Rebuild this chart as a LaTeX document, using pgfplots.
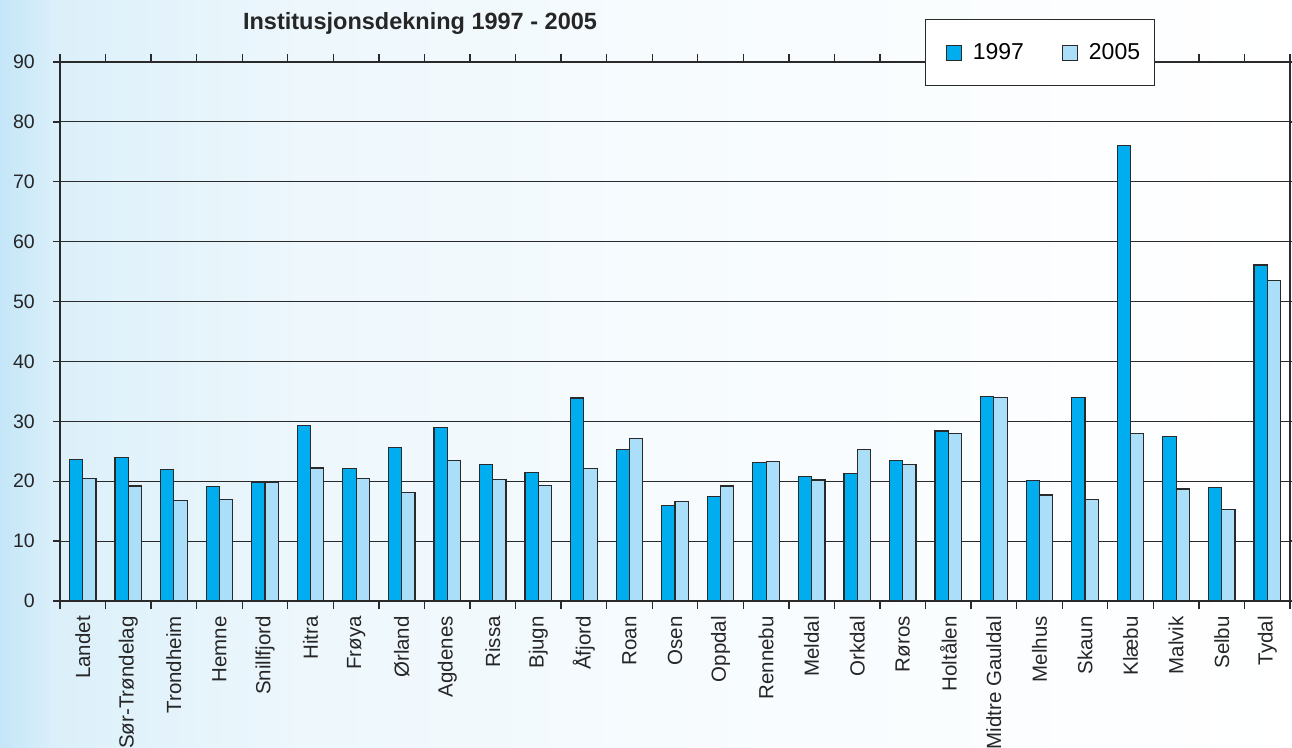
\documentclass[border=0pt]{standalone}
\usepackage{pgfplots}
\usepackage{pgfplotstable}
\pgfplotsset{compat=1.18}
\usepackage{fontspec}
\setmainfont{Liberation Sans}

\definecolor{bar97}{HTML}{00AEEF}
\definecolor{bar05}{HTML}{ABDFF9}
\definecolor{edge}{HTML}{2A2A2A}
\definecolor{bgA}{HTML}{C4E6F8}
\definecolor{bgB}{HTML}{DCF0FA}
\definecolor{bgC}{HTML}{EDF7FC}
\definecolor{bgD}{HTML}{F6FBFE}

% soft blue backdrop that fades out towards the right
\pgfdeclarehorizontalshading{backdrop}{100bp}{%
  color(0bp)=(bgA); color(25bp)=(bgA); color(27.3bp)=(bgB);
  color(36.6bp)=(bgC); color(50bp)=(bgD); color(75bp)=(white); color(100bp)=(white)}

% Institusjonsdekning per kommune, 1997 og 2005
\pgfplotstableread{
idx v1997 v2005
0  23.6 20.4
1  23.9 19.2
2  21.9 16.8
3  19.1 17.0
4  19.8 19.8
5  29.3 22.2
6  22.1 20.4
7  25.6 18.1
8  29.0 23.4
9  22.8 20.3
10 21.5 19.3
11 33.9 22.1
12 25.3 27.1
13 15.9 16.6
14 17.5 19.2
15 23.1 23.3
16 20.8 20.2
17 21.3 25.3
18 23.5 22.8
19 28.4 28.0
20 34.2 34.0
21 20.1 17.7
22 34.0 16.9
23 76.1 28.0
24 27.5 18.7
25 18.9 15.3
26 56.1 53.5
}\datatable

\begin{document}
\begin{tikzpicture}
\path[use as bounding box] (0pt,0pt) rectangle (1292pt,747pt);
\shade[shading=backdrop] (0pt,0pt) rectangle (1292pt,747pt);

\node[font=\fontsize{23.5}{27}\selectfont\bfseries, anchor=base, text=black!85]
  at (420pt,717pt) {Institusjonsdekning 1997 - 2005};

\begin{axis}[
  at={(60pt,146pt)}, anchor=south west,
  scale only axis, width=1230pt, height=539pt,
  xmin=-0.5, xmax=26.5, ymin=0, ymax=90,
  ybar=0pt, bar width=13.3pt,
  ytick={0,10,...,90},
  xtick={0,...,26},
  xticklabels={Landet,Sør-Trøndelag,Trondheim,Hemne,Snillfjord,Hitra,Frøya,Ørland,Agdenes,Rissa,Bjugn,Åfjord,Roan,Osen,Oppdal,Rennebu,Meldal,Orkdal,Røros,Holtålen,Midtre Gauldal,Melhus,Skaun,Klæbu,Malvik,Selbu,Tydal},
  minor xtick={-0.5,0.5,...,26.5},
  tick align=outside,
  major tick length=7pt, minor tick length=8pt,
  major x tick style={draw=none},
  minor x tick style={draw=edge, line width=1.3pt},
  major y tick style={draw=edge, line width=1.3pt},
  ymajorgrids,
  major grid style={draw=edge, line width=1.1pt},
  axis line style={draw=edge, line width=2.2pt},
  /pgf/number format/assume math mode=true,
  yticklabel style={font=\fontsize{19.5}{22}\selectfont, text=black!85, anchor=east, inner sep=0pt, xshift=-18pt},
  xticklabel style={font=\fontsize{20.5}{23}\selectfont, text=black!85, rotate=90, anchor=east, inner sep=0pt, xshift=-8pt},
  legend columns=2,
  legend style={
    at={(0.7967,1.0176)}, anchor=center,
    draw=edge, line width=1pt, fill=white,
    font=\fontsize{23}{26}\selectfont,
    inner xsep=12pt, inner ysep=22pt,
    /tikz/every even column/.append style={column sep=28pt},
  },
  legend image code/.code={%
    \path[draw=none, fill=none] (-9pt,0pt) -- (24pt,0pt);
    \draw[#1, draw=edge, line width=1pt] (0pt,-7.5pt) rectangle (15pt,7.5pt);},
]
\addplot[fill=bar97, draw=edge, line width=1.2pt] table[x=idx, y=v1997] {\datatable};
\addplot[fill=bar05, draw=edge, line width=1.2pt] table[x=idx, y=v2005] {\datatable};
\legend{1997,2005}
\end{axis}
\end{tikzpicture}
\end{document}
